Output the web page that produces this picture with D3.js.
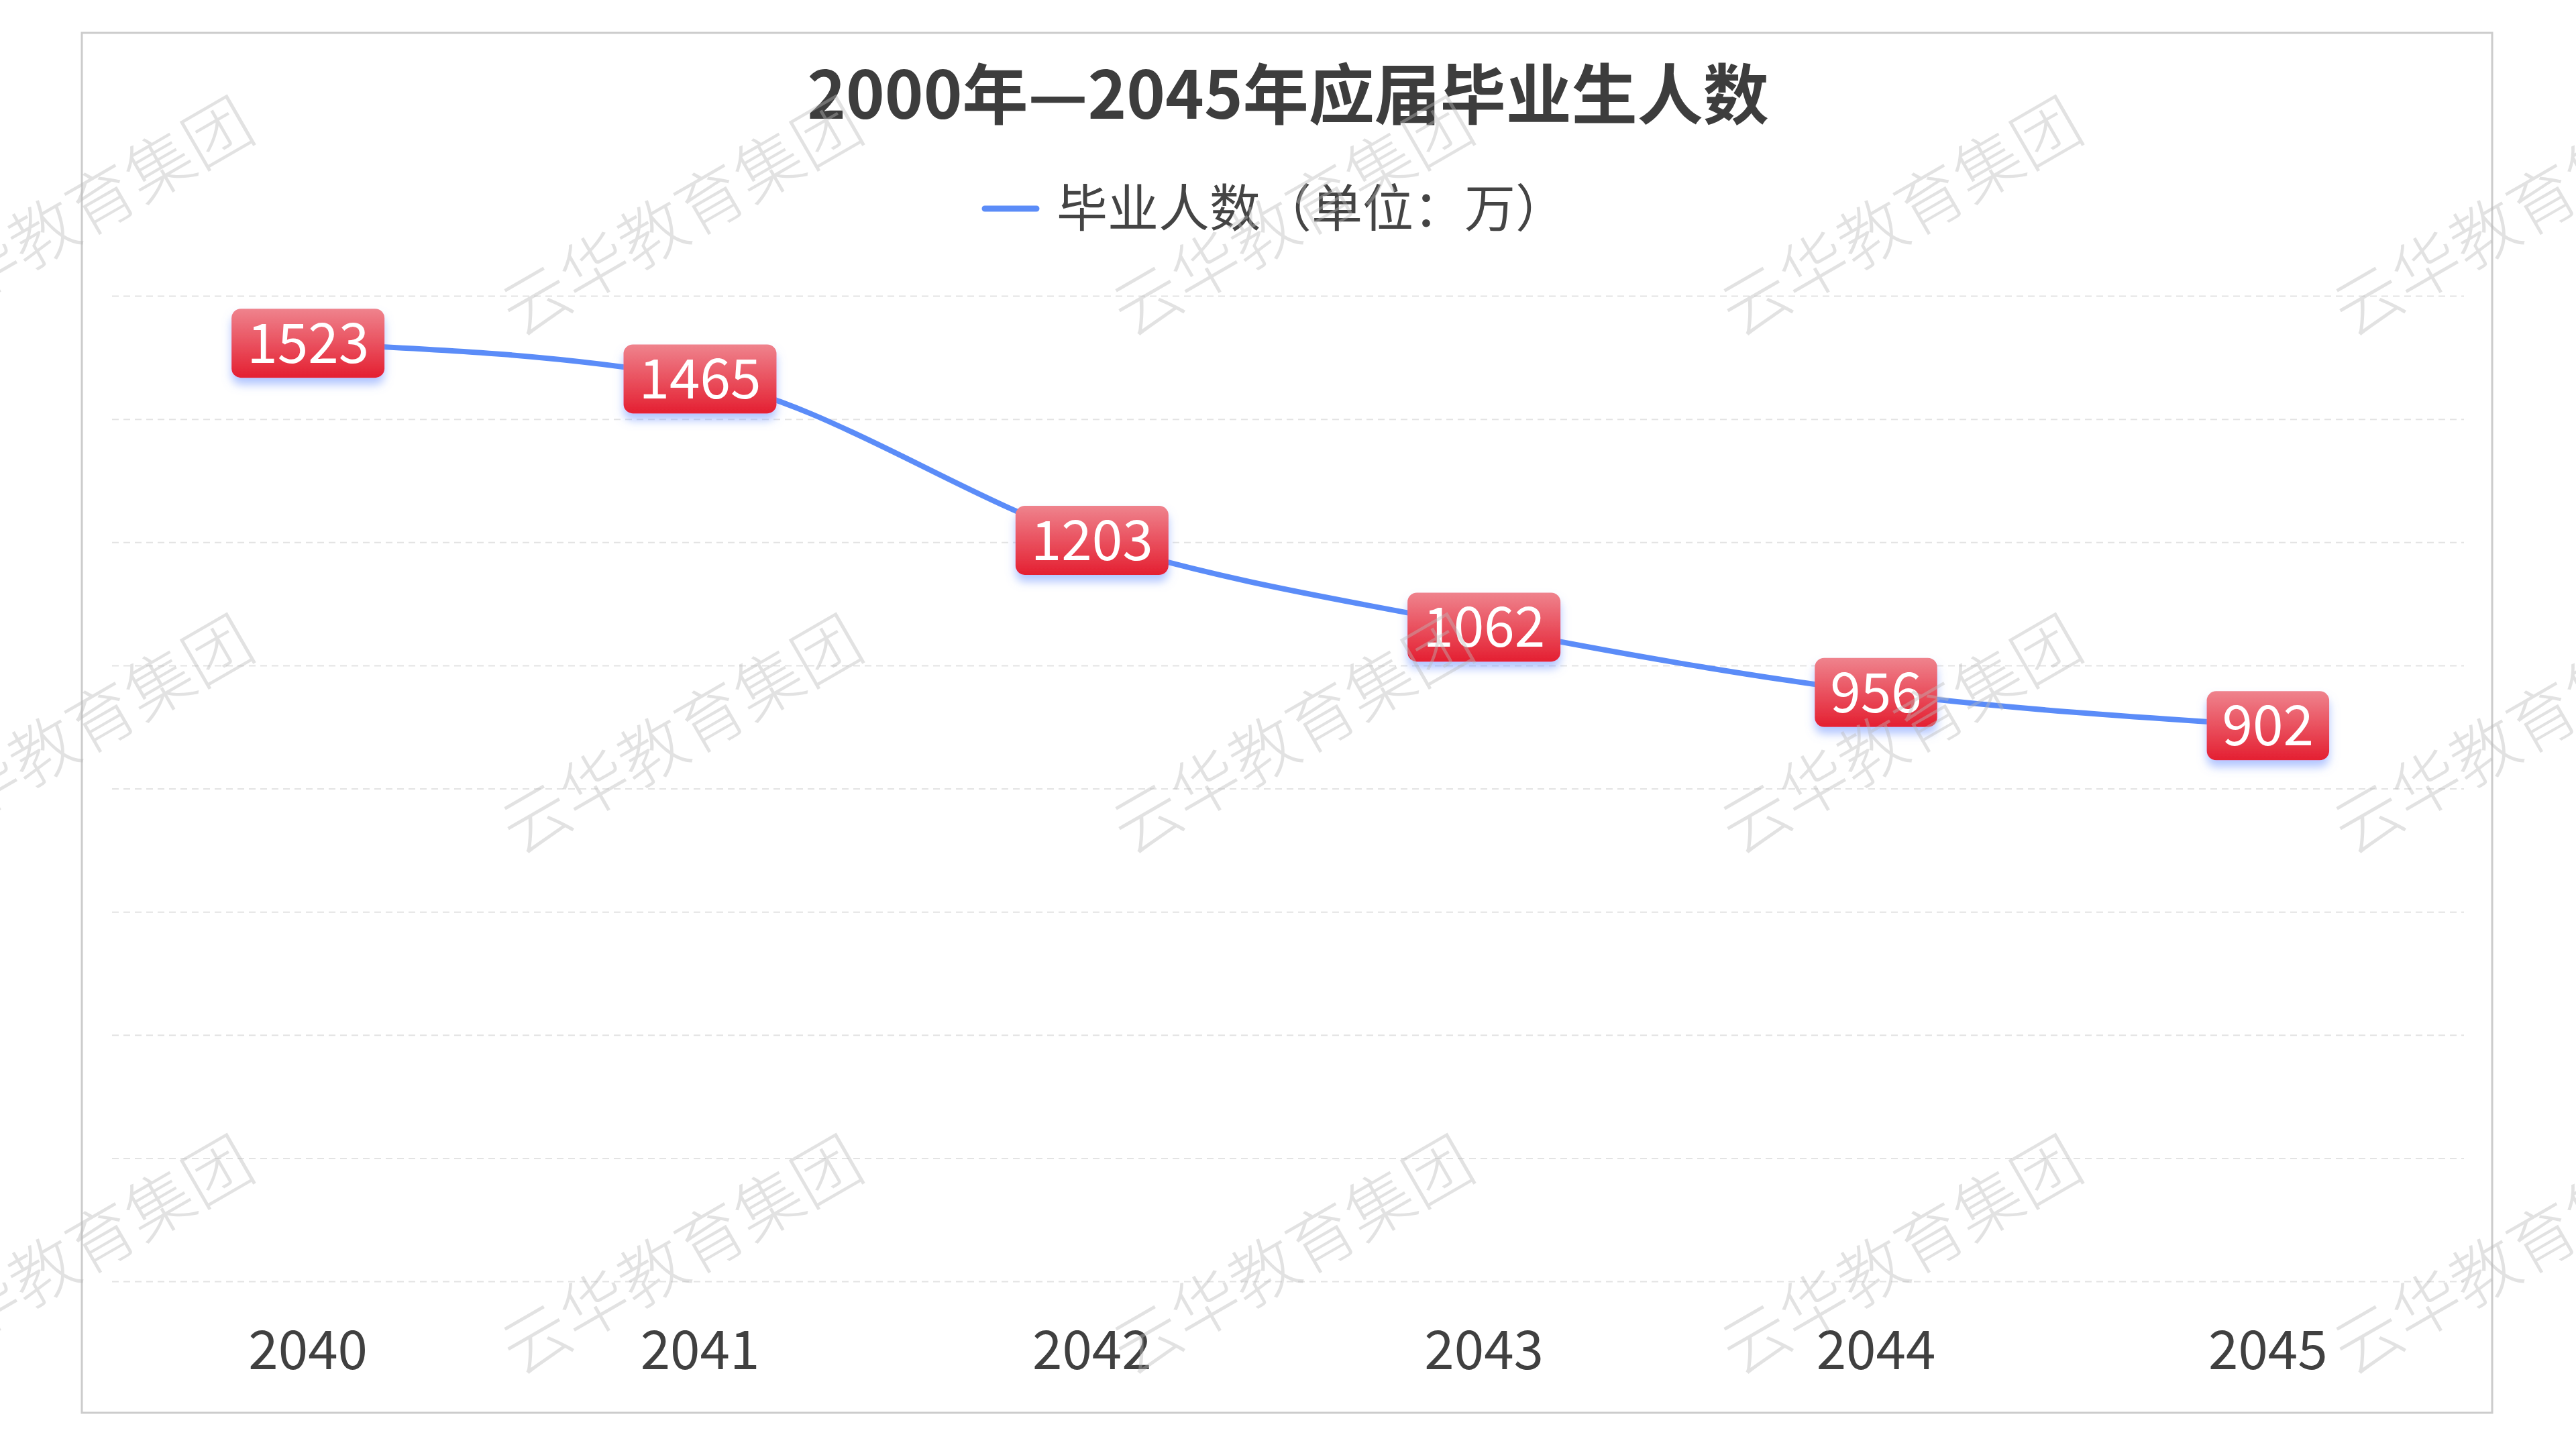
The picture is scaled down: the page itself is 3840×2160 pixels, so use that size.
<!DOCTYPE html>
<html>
<head>
<meta charset="utf-8">
<script src="https://cdn.jsdelivr.net/npm/d3@7/dist/d3.min.js"></script>
<style>
  html, body { margin: 0; padding: 0; background: #fff; }
  svg { display: block; }
  text { font-family: "Noto Sans CJK SC", "Noto Sans", sans-serif; }
</style>
</head>
<body>
<svg id="chart" width="3840" height="2160"></svg>
<script>
// ---- data ----
const titleText = "2000年—2045年应届毕业生人数";
const seriesName = "毕业人数（单位：万）";
const years = ["2040", "2041", "2042", "2043", "2044", "2045"];
const graduates = [1523, 1465, 1203, 1062, 956, 902];
const yTicks = [0, 200, 400, 600, 800, 1000, 1200, 1400, 1600];
const watermarkText = "云华教育集团";

// ---- layout ----
const W = 3840, H = 2160;
const plot = { left: 167, right: 3673, top: 441, bottom: 1910 };
const svg = d3.select("#chart");

const defs = svg.append("defs");
const grad = defs.append("linearGradient").attr("id", "lblGrad")
  .attr("x1", 0).attr("y1", 0).attr("x2", 0).attr("y2", 1);
grad.append("stop").attr("offset", "0%").attr("stop-color", "#ef838d");
grad.append("stop").attr("offset", "100%").attr("stop-color", "#e41f31");
const filt = defs.append("filter").attr("id", "lblShadow")
  .attr("x", "-30%").attr("y", "-30%").attr("width", "160%").attr("height", "190%");
filt.append("feDropShadow").attr("dx", 0).attr("dy", 10).attr("stdDeviation", 7)
  .attr("flood-color", "#6f95ff").attr("flood-opacity", 0.55);

// background & border
svg.append("rect").attr("width", W).attr("height", H).attr("fill", "#fff");
svg.append("rect").attr("x", 122).attr("y", 49).attr("width", 3715 - 122).attr("height", 2106 - 49)
  .attr("fill", "none").attr("stroke", "#cccccc").attr("stroke-width", 3);

// scales
const x = d3.scaleBand().domain(years).range([plot.left, plot.right]);
const y = d3.scaleLinear().domain([0, 1600]).range([plot.bottom, plot.top]);

// grid lines
const yAxis = d3.axisLeft(y).tickValues(yTicks).tickSize(-(plot.right - plot.left)).tickFormat("");
const gy = svg.append("g").attr("transform", `translate(${plot.left},0)`).call(yAxis);
gy.select(".domain").remove();
gy.selectAll(".tick line").attr("stroke", "#e3e3e3").attr("stroke-width", 2).attr("stroke-dasharray", "10,7");

// x axis labels
const xAxis = d3.axisBottom(x).tickSize(0).tickPadding(0);
const gx = svg.append("g").attr("transform", `translate(0,${plot.bottom})`).call(xAxis);
gx.select(".domain").remove();
gx.selectAll(".tick text")
  .attr("y", 2013 - plot.bottom).attr("dy", "0.35em")
  .attr("font-size", 80).attr("fill", "#404040")
  .attr("font-family", "'Noto Sans CJK SC', sans-serif");

// line
const pts = years.map((yr, i) => [x(yr) + x.bandwidth() / 2, y(graduates[i])]);
const line = d3.line().curve(d3.curveMonotoneX);
svg.append("path").attr("d", line(pts)).attr("fill", "none")
  .attr("stroke", "#5b8cf8").attr("stroke-width", 8).attr("stroke-linejoin", "round");

// labels
const lg = svg.append("g");
years.forEach((yr, i) => {
  const g = lg.append("g").attr("transform", `translate(${pts[i][0]},${pts[i][1]})`);
  const txt = g.append("text").text(graduates[i])
    .attr("text-anchor", "middle").attr("dy", "0.36em")
    .attr("font-size", 82).attr("fill", "#fff");
  const bb = txt.node().getBBox();
  const bw = bb.width + 46, bh = 103;
  g.insert("rect", "text")
    .attr("x", -bw / 2).attr("y", -bh / 2).attr("width", bw).attr("height", bh)
    .attr("rx", 14).attr("ry", 14)
    .attr("fill", "url(#lblGrad)").attr("filter", "url(#lblShadow)");
});

// title
svg.append("text").text(titleText)
  .attr("x", 1920).attr("y", 142).attr("dy", "0.36em")
  .attr("text-anchor", "middle").attr("font-size", 98).attr("font-weight", 700)
  .attr("fill", "#3d3d3d");

// legend
const legendText = svg.append("text").text(seriesName)
  .attr("x", 1575).attr("y", 311).attr("dy", "0.36em")
  .attr("font-size", 76).attr("fill", "#444");
svg.append("line").attr("x1", 1468).attr("x2", 1545).attr("y1", 311).attr("y2", 311)
  .attr("stroke", "#5b8cf8").attr("stroke-width", 9).attr("stroke-linecap", "round");

// watermark (on top)
const wm = svg.append("g").attr("pointer-events", "none");
const wmX = [108, 1016, 1927, 2834, 3747];
const wmY = [323, 1095, 1871];
wmY.forEach(cy => wmX.forEach(cx => {
  wm.append("text").text(watermarkText)
    .attr("transform", `translate(${cx},${cy}) rotate(-30)`)
    .attr("text-anchor", "middle").attr("dy", "0.36em")
    .attr("font-size", 100).attr("font-weight", 300)
    .attr("fill", "rgba(185,185,185,0.42)");
}));
</script>
</body>
</html>
